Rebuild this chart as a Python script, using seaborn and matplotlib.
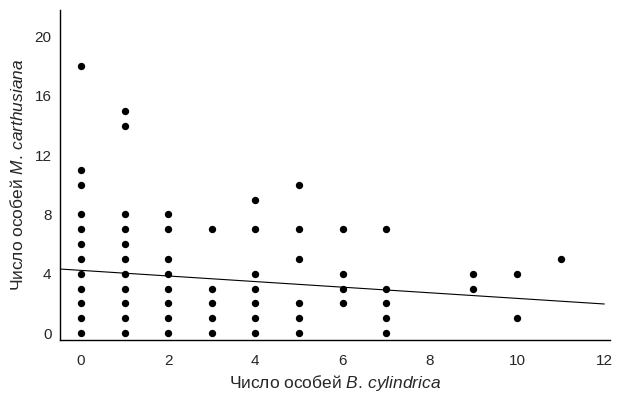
import numpy as np
import pandas as pd
import matplotlib
matplotlib.use("Agg")
import matplotlib.pyplot as plt
import seaborn as sns

# data
x0 = [0]*12; y0 = [0, 1, 2, 3, 4, 5, 6, 7, 8, 10, 11, 18]
x1 = [1]*11; y1 = [0, 1, 2, 3, 4, 5, 6, 7, 8, 14, 15]
x2 = [2]*8;  y2 = [0, 1, 2, 3, 4, 5, 7, 8]
x3 = [3]*5;  y3 = [0, 1, 2, 3, 7]
x4 = [4]*7;  y4 = [0, 1, 2, 3, 4, 7, 9]
x5 = [5]*6;  y5 = [0, 1, 2, 5, 7, 10]
x6 = [6]*4;  y6 = [2, 3, 4, 7]
x7 = [7]*5;  y7 = [0, 1, 2, 3, 7]
x9 = [9]*2;  y9 = [3, 4]
x10 = [10]*2; y10 = [1, 4]
x11 = [11];  y11 = [5]

bcyl = x0 + x1 + x2 + x3 + x4 + x5 + x6 + x7 + x9 + x10 + x11
mcar = y0 + y1 + y2 + y3 + y4 + y5 + y6 + y7 + y9 + y10 + y11

line_x = [-0.48, 12.0]
line_y = [4.32, 1.96]

xticks = [0, 2, 4, 6, 8, 10, 12]
yticks = [0, 4, 8, 12, 16, 20]

df = pd.DataFrame({"b": bcyl, "m": mcar})

sns.set_style("white")
plt.rcParams["font.family"] = ["Liberation Sans", "DejaVu Sans"]
plt.rcParams["mathtext.fontset"] = "custom"
plt.rcParams["mathtext.rm"] = "Liberation Sans"
plt.rcParams["mathtext.it"] = "Liberation Sans:italic"

fig = plt.figure(figsize=(6.18, 4.0), dpi=100)
ax = fig.add_axes([0.097, 0.15, 0.89, 0.825])

sns.scatterplot(data=df, x="b", y="m", ax=ax, color="black", s=28,
                edgecolor="black", linewidth=0, marker="o", legend=False)
sns.lineplot(x=line_x, y=line_y, ax=ax, color="black", linewidth=0.8)

ax.set_xlim(-0.48, 12.13)
ax.set_ylim(-0.47, 21.8)
ax.set_xticks(xticks)
ax.set_yticks(yticks)
ax.tick_params(axis="both", labelsize=11, length=2, width=0.8, color="black",
               direction="out")
ax.tick_params(axis="x", pad=8)
ax.tick_params(axis="y", pad=4)
for s in ["top", "right"]:
    ax.spines[s].set_visible(False)
for s in ["left", "bottom"]:
    ax.spines[s].set_color("black")
    ax.spines[s].set_linewidth(1.0)

ax.set_xlabel("Число особей $\\mathit{B.\\,cylindrica}$", fontsize=12.5, labelpad=4)
ax.set_ylabel("Число особей $\\mathit{M.\\,carthusiana}$", fontsize=12.5, labelpad=6)

fig.savefig("out.png", dpi=100)
